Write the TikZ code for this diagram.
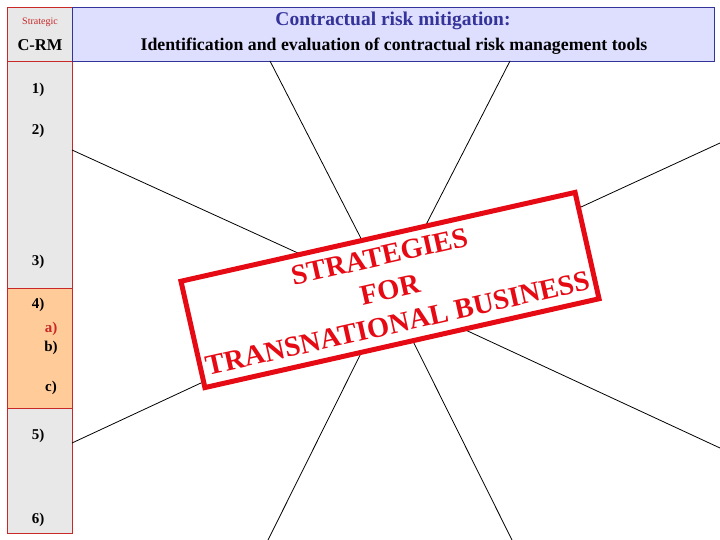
\documentclass[tikz,border=0pt]{standalone}
\usepackage{fontspec}
\setmainfont{Liberation Serif}

\definecolor{panelgray}{RGB}{232,232,232}
\definecolor{panelorange}{RGB}{255,204,153}
\definecolor{headblue}{RGB}{222,222,255}
\definecolor{navy}{RGB}{51,51,153}
\definecolor{panelred}{RGB}{200,40,40}
\definecolor{stampred}{RGB}{230,10,20}

\begin{document}
\begin{tikzpicture}[x=1pt,y=-1pt,
        cell/.style={rectangle, draw=panelred, fill=panelgray,
                minimum width=65pt, inner sep=0pt},
        item/.style={font=\bfseries\fontsize{15}{15}\selectfont},
        stamptext/.style={text=stampred, transform shape,
                font=\bfseries\fontsize{28.5}{28.5}\selectfont}]

            \useasboundingbox (0,0) rectangle (720,540);

            \begin{scope}[every node/.style={cell}]

                \node[minimum height=54pt] (hdr) at (39.5,34) {};
                \node[minimum height=227pt] (upper) at (39.5,174.5) {};
                \node[fill=panelorange, minimum height=120pt] (middle) at (39.5,348) {};
                \node[minimum height=125pt] (lower) at (39.5,470.5) {};

            \end{scope}

            \node[rectangle, draw=navy, fill=headblue, minimum width=642pt,
                minimum height=54pt, inner sep=0pt] (title) at (393,34) {};

            \node[text=panelred, font=\fontsize{10}{10}\selectfont] (strat) at (40,22) {Strategic};
            \node[font=\bfseries\fontsize{16.5}{16.5}\selectfont] (crm) at (40,45) {C-RM};
            \node[text=navy, font=\bfseries\fontsize{19.5}{19.5}\selectfont] (head) at (393,21) {Contractual risk mitigation:};
            \node[font=\bfseries\fontsize{17.8}{17.8}\selectfont] (sub) at (394,46) {Identification and evaluation of contractual risk management tools};

            \begin{scope}[every node/.style={item}]

                \node (i1) at (38,90) {1)};
                \node (i2) at (38,131) {2)};
                \node (i3) at (38,262) {3)};
                \node (i4) at (38,305) {4)};
                \node[text=panelred] (ia) at (51,329) {a)};
                \node (ib) at (51,348) {b)};
                \node (ic) at (51,388) {c)};
                \node (i5) at (38,436) {5)};
                \node (i6) at (38,520) {6)};

            \end{scope}

            % spokes
            \coordinate (hub) at (390,295);
            \coordinate (s1) at (72,150);
            \coordinate (s2) at (270,61);
            \coordinate (s3) at (510,61);
            \coordinate (s4) at (720,143);
            \coordinate (s5) at (720,448);
            \coordinate (s6) at (512,540);
            \coordinate (s7) at (268,540);
            \coordinate (s8) at (72,443);

            \path[draw, line width=0.8pt] (s1) edge (hub);
            \path[draw, line width=0.8pt] (s2) edge (hub);
            \path[draw, line width=0.8pt] (s3) edge (hub);
            \path[draw, line width=0.8pt] (s4) edge (hub);
            \path[draw, line width=0.8pt] (s5) edge (hub);
            \path[draw, line width=0.8pt] (s6) edge (hub);
            \path[draw, line width=0.8pt] (s7) edge (hub);
            \path[draw, line width=0.8pt] (s8) edge (hub);

            % stamp
            \begin{scope}[shift={(390,290)}, rotate=12.7]

                \node[rectangle, draw=stampred, fill=white, line width=5pt,
                    minimum width=404pt, minimum height=109pt, transform shape] (stamp) at (0,0) {};
                \node[stamptext] (st1) at (-3,-35) {STRATEGIES};
                \node[stamptext] (st2) at (0,0) {FOR};
                \node[stamptext] (st3) at (0,34) {TRANSNATIONAL BUSINESS};

            \end{scope}

        \end{tikzpicture}
\end{document}
